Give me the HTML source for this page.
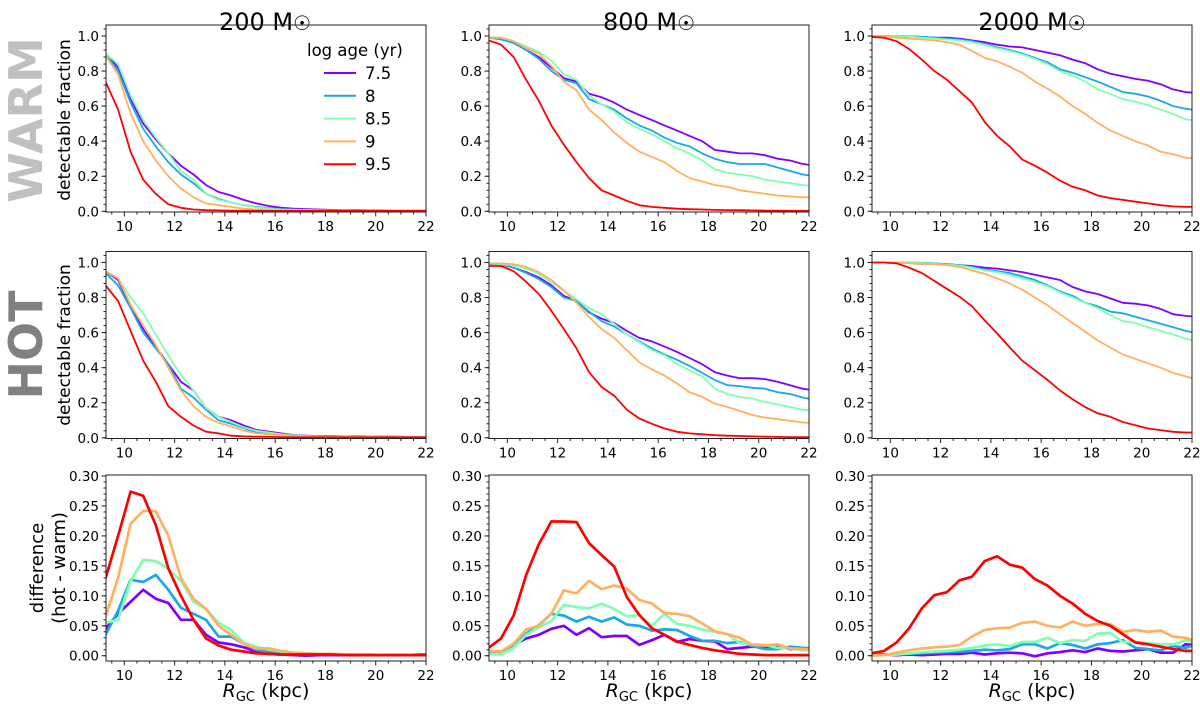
<!DOCTYPE html>
<html><head><meta charset="utf-8">
<style>
html,body{margin:0;padding:0;background:#fff;}
svg{display:block;font-family:"DejaVu Sans","Liberation Sans",sans-serif;}
</style></head>
<body>
<svg id="fig" width="1200" height="707" viewBox="0 0 1200 707" xmlns="http://www.w3.org/2000/svg">
<text x="265" y="30" font-size="24" text-anchor="middle">200 M<tspan font-size="20">☉</tspan></text>
<text x="649" y="30" font-size="24" text-anchor="middle">800 M<tspan font-size="20">☉</tspan></text>
<text x="1032" y="30" font-size="24" text-anchor="middle">2000 M<tspan font-size="20">☉</tspan></text>
<text transform="translate(42,120) rotate(-90)" font-size="46" font-weight="bold" fill="#c0c0c0" text-anchor="middle">WARM</text>
<text transform="translate(42,345) rotate(-90)" font-size="46" font-weight="bold" fill="#808080" text-anchor="middle">HOT</text>
<text transform="translate(70,120) rotate(-90)" font-size="17" text-anchor="middle">detectable fraction</text>
<text transform="translate(70,345) rotate(-90)" font-size="17" text-anchor="middle">detectable fraction</text>
<text transform="translate(43,568) rotate(-90)" font-size="18" text-anchor="middle">difference</text>
<text transform="translate(65,568) rotate(-90)" font-size="18" text-anchor="middle">(hot - warm)</text>
<g id="plots"></g>
</svg>
<script>
const xs = [9.25,9.75,10.25,10.75,11.25,11.75,12.25,12.75,13.25,13.75,14.25,14.75,15.25,15.75,16.25,16.75,17.25,17.75,18.25,18.75,19.25,19.75,20.25,20.75,21.25,21.75,22.25];
const ages = ["7.5","8","8.5","9","9.5"];
const xTicks = [10,12,14,16,18,20,22];
const fracTicks = [0.0,0.2,0.4,0.6,0.8,1.0];
const diffTicks = [0.00,0.05,0.10,0.15,0.20,0.25,0.30];

const warm200_75 = [.90,.82,.64,.50,.41,.33,.26,.21,.15,.11,.09,.065,.045,.03,.02,.015,.012,.01,.008,.007,.006,.005,.005,.004,.004,.004,.004];
const warm200_8 = [.90,.80,.62,.47,.37,.28,.21,.16,.10,.07,.05,.035,.025,.018,.012,.01,.008,.006,.005,.004,.004,.003,.003,.003,.003,.003,.003];
const warm200_85 = [.90,.84,.66,.52,.42,.33,.23,.18,.10,.065,.05,.035,.022,.015,.01,.008,.006,.005,.004,.004,.003,.003,.003,.003,.003,.003,.003];
const warm200_9 = [.89,.78,.56,.40,.29,.20,.13,.08,.045,.035,.025,.015,.01,.008,.006,.005,.004,.003,.003,.003,.002,.002,.002,.002,.002,.002,.002];
const warm200_95 = [.74,.58,.34,.18,.10,.04,.02,.01,.006,.005,.004,.003,.003,.002,.002,.002,.002,.002,.002,.002,.002,.002,.002,.002,.002,.002,.002];

const hot200_75 = [.95,.90,.75,.62,.52,.42,.32,.27,.17,.12,.10,.07,.045,.035,.025,.015,.012,.01,.01,.008,.008,.007,.006,.006,.005,.005,.005];
const hot200_8 = [.94,.87,.74,.60,.51,.42,.28,.23,.16,.10,.08,.055,.03,.025,.02,.015,.01,.008,.007,.006,.005,.005,.004,.004,.004,.004,.004];
const hot200_85 = [.95,.91,.80,.71,.59,.47,.36,.27,.17,.12,.09,.06,.04,.03,.02,.012,.01,.008,.007,.006,.005,.005,.004,.004,.004,.004,.004];
const hot200_9 = [.95,.91,.76,.64,.53,.40,.27,.18,.12,.085,.065,.04,.025,.02,.015,.012,.008,.007,.006,.005,.005,.004,.004,.004,.004,.004,.004];
const hot200_95 = [.87,.78,.61,.44,.32,.18,.12,.07,.035,.025,.012,.008,.006,.005,.004,.003,.003,.003,.003,.003,.003,.003,.003,.003,.003,.003,.003];

const diff200_75 = [.045,.07,.09,.11,.095,.088,.06,.06,.035,.022,.019,.014,.007,.003,.002,.001,.0,.001,.001,.001,.001,.001,.001,.001,.001,.002,.002];
const diff200_8 = [.035,.075,.127,.123,.135,.11,.08,.07,.06,.032,.032,.02,.01,.006,.005,.004,.003,.002,.002,.002,.001,.001,.001,.001,.001,.001,.001];
const diff200_85 = [.055,.06,.125,.16,.158,.145,.125,.09,.078,.055,.043,.022,.015,.01,.007,.005,.004,.003,.003,.002,.002,.002,.001,.001,.001,.001,.001];
const diff200_9 = [.065,.13,.22,.242,.241,.20,.13,.095,.078,.05,.035,.02,.012,.012,.008,.005,.004,.003,.003,.002,.002,.002,.001,.001,.001,.001,.001];
const diff200_95 = [.129,.20,.274,.267,.218,.146,.10,.06,.029,.017,.01,.007,.004,.003,.002,.002,.002,.002,.002,.001,.001,.001,.001,.001,.001,.001,.001];

const warm800_75 = [.99,.99,.96,.92,.88,.82,.76,.74,.67,.65,.62,.58,.55,.52,.49,.46,.43,.40,.35,.34,.33,.33,.32,.30,.29,.27,.26];
const warm800_8 = [.99,.98,.96,.92,.87,.80,.75,.73,.64,.61,.58,.53,.49,.46,.42,.39,.37,.33,.30,.28,.27,.27,.27,.25,.23,.21,.20];
const warm800_85 = [.99,.99,.97,.94,.91,.86,.78,.75,.66,.61,.57,.51,.47,.44,.40,.36,.33,.29,.24,.22,.21,.20,.18,.17,.16,.15,.14];
const warm800_9 = [.99,.99,.97,.93,.90,.83,.74,.69,.58,.52,.45,.39,.34,.31,.28,.23,.19,.17,.15,.14,.12,.11,.10,.09,.085,.08,.08];
const warm800_95 = [.975,.95,.88,.75,.63,.49,.38,.28,.19,.12,.09,.06,.035,.025,.02,.015,.012,.01,.008,.007,.006,.005,.004,.004,.003,.003,.003];

const hot800_75 = [.995,.99,.97,.945,.915,.87,.81,.78,.715,.68,.655,.61,.57,.55,.52,.49,.455,.42,.375,.355,.34,.34,.335,.32,.30,.28,.27];
const hot800_8 = [.99,.99,.97,.94,.905,.86,.80,.78,.72,.665,.635,.59,.55,.51,.475,.445,.41,.37,.33,.30,.295,.285,.28,.26,.25,.23,.215];
const hot800_85 = [.995,.99,.985,.965,.935,.885,.84,.79,.74,.705,.65,.59,.545,.50,.47,.42,.385,.35,.28,.25,.233,.223,.205,.19,.176,.16,.155];
const hot800_9 = [.995,.995,.99,.975,.945,.90,.84,.77,.69,.62,.57,.50,.43,.39,.355,.31,.26,.233,.195,.176,.153,.13,.115,.106,.097,.087,.085];
const hot800_95 = [.98,.98,.95,.89,.82,.725,.62,.51,.375,.29,.24,.16,.11,.08,.053,.034,.025,.02,.015,.012,.01,.008,.006,.005,.004,.004,.004];

const diff800_75 = [.004,.007,.018,.029,.035,.045,.05,.035,.046,.031,.033,.033,.018,.026,.035,.023,.028,.025,.024,.011,.013,.015,.014,.015,.011,.012,.012];
const diff800_8 = [.005,.006,.018,.037,.051,.07,.067,.057,.065,.057,.064,.052,.05,.042,.044,.043,.033,.025,.025,.021,.023,.016,.011,.011,.015,.013,.012];
const diff800_85 = [.003,.002,.013,.035,.047,.058,.085,.081,.079,.087,.078,.066,.068,.05,.07,.053,.05,.044,.04,.036,.021,.019,.018,.013,.012,.009,.009];
const diff800_9 = [.008,.007,.02,.044,.05,.07,.109,.104,.125,.111,.117,.112,.093,.087,.071,.07,.066,.054,.041,.036,.03,.018,.017,.019,.012,.011,.01];
const diff800_95 = [.013,.029,.067,.135,.186,.224,.224,.223,.188,.168,.149,.098,.068,.046,.035,.024,.018,.013,.009,.006,.003,.002,.001,.001,.001,.001,.001];

const warm2000_75 = [1,1,1,.998,.995,.99,.99,.985,.975,.965,.95,.94,.935,.92,.905,.89,.865,.845,.81,.785,.77,.755,.745,.725,.695,.68,.675];
const warm2000_8 = [1,1,1,.997,.995,.99,.985,.98,.97,.955,.935,.92,.90,.875,.85,.81,.79,.765,.74,.71,.68,.67,.655,.63,.60,.585,.575];
const warm2000_85 = [1,1,1,.997,.99,.985,.98,.975,.965,.95,.93,.915,.895,.87,.84,.80,.775,.74,.695,.67,.64,.625,.605,.58,.555,.525,.515];
const warm2000_9 = [1,.998,.99,.985,.98,.975,.965,.95,.915,.875,.855,.825,.79,.74,.70,.655,.60,.555,.505,.46,.43,.40,.375,.34,.325,.305,.30];
const warm2000_95 = [.995,.99,.97,.925,.865,.80,.75,.685,.62,.51,.43,.37,.295,.26,.22,.175,.14,.12,.09,.075,.065,.055,.045,.035,.028,.025,.025];

const hot2000_75 = [1,1,1,1,.998,.995,.99,.985,.98,.97,.965,.955,.945,.93,.915,.90,.86,.835,.82,.795,.77,.765,.755,.735,.705,.695,.69];
const hot2000_8 = [1,1,1,1,.997,.995,.99,.985,.975,.96,.95,.94,.92,.90,.87,.835,.81,.77,.75,.72,.71,.69,.67,.65,.63,.61,.595];
const hot2000_85 = [1,1,1,1,.997,.993,.988,.982,.97,.955,.945,.93,.91,.89,.865,.83,.80,.77,.74,.70,.665,.655,.63,.61,.59,.565,.545];
const hot2000_9 = [1,1,.998,.995,.99,.99,.985,.975,.955,.935,.91,.88,.845,.80,.755,.705,.655,.605,.555,.515,.475,.45,.425,.40,.37,.35,.33];
const hot2000_95 = [1,1,.995,.97,.94,.895,.85,.805,.75,.67,.595,.515,.44,.385,.33,.27,.22,.175,.14,.12,.09,.072,.053,.044,.034,.03,.03];

const diff2000_75 = [.003,.002,.001,.002,.001,.002,.003,.003,.005,.002,.004,.005,.004,-.001,.004,.006,.009,.006,.012,.008,.007,.009,.011,.005,.005,.019,.017];
const diff2000_8 = [.001,.002,.002,.003,.004,.005,.006,.007,.008,.01,.009,.011,.019,.019,.012,.021,.018,.012,.019,.021,.026,.013,.011,.009,.016,.013,.02];
const diff2000_85 = [.001,.001,.002,.004,.006,.007,.008,.01,.013,.017,.019,.016,.023,.023,.03,.021,.026,.025,.037,.038,.023,.023,.021,.019,.019,.026,.02];
const diff2000_9 = [.0,.001,.005,.009,.012,.014,.015,.018,.032,.043,.046,.047,.055,.057,.05,.047,.057,.05,.053,.053,.04,.043,.04,.042,.032,.03,.023];
const diff2000_95 = [.004,.008,.022,.046,.079,.101,.106,.126,.132,.158,.166,.152,.147,.128,.117,.10,.087,.07,.058,.05,.036,.022,.019,.015,.011,.008,.008];

const colors = ["#8000ff","#1aa8e6","#80ffb0","#ffb060","#ff0000"];
const NS = "http://www.w3.org/2000/svg";
const root = document.getElementById("plots");
function mk(tag, attrs, parent){ const e=document.createElementNS(NS,tag); for(const k in attrs) e.setAttribute(k,attrs[k]); (parent||root).appendChild(e); return e; }

const colX = [106, 489, 872], W = 320;
const rowY = [25, 251.5, 475], rowH = [187, 187, 186];
const xlim = [9.27, 22];
const ylims = [[-0.004,1.0626],[-0.004,1.0626],[-0.0088,0.3017]];
const panels = [
  [[warm200_75,warm200_8,warm200_85,warm200_9,warm200_95],[warm800_75,warm800_8,warm800_85,warm800_9,warm800_95],[warm2000_75,warm2000_8,warm2000_85,warm2000_9,warm2000_95]],
  [[hot200_75,hot200_8,hot200_85,hot200_9,hot200_95],[hot800_75,hot800_8,hot800_85,hot800_9,hot800_95],[hot2000_75,hot2000_8,hot2000_85,hot2000_9,hot2000_95]],
  [[diff200_75,diff200_8,diff200_85,diff200_9,diff200_95],[diff800_75,diff800_8,diff800_85,diff800_9,diff800_95],[diff2000_75,diff2000_8,diff2000_85,diff2000_9,diff2000_95]]
];
const rowNames = ["warm","hot","diff"], colNames = ["200","800","2000"];

for(let r=0;r<3;r++){
  for(let c=0;c<3;c++){
    const x0=colX[c], y0=rowY[r], h=rowH[r], yl=ylims[r];
    const sx = v => x0 + (v-xlim[0])/(xlim[1]-xlim[0])*W;
    const sy = v => y0 + h - (v-yl[0])/(yl[1]-yl[0])*h;
    const g = mk("g",{});
    
    
    const cid = "clip"+r+c;
    const cp = mk("clipPath",{id:cid},g);
    mk("rect",{x:x0,y:y0,width:W,height:h},cp);
    const lg = mk("g",{"clip-path":"url(#"+cid+")"},g);
    panels[r][c].forEach((vals,i)=>{
      const d = vals.map((v,k)=>(k?"L":"M")+sx(xs[k]).toFixed(1)+","+sy(v).toFixed(1)).join("");
      const p = mk("path",{d:d,fill:"none",stroke:colors[i],"stroke-width":r==2?2.7:1.8,"stroke-linejoin":"round"},lg);
      
      
    });
    const fr = mk("rect",{x:x0,y:y0,width:W,height:h,fill:"none",stroke:"#222","stroke-width":1},g);
    
    
    for(let v=9.5; v<=22.01; v+=0.5){
      const X=sx(v);
      const major = Math.abs(v - Math.round(v/2)*2) < 1e-6;
      mk("line",{x1:X,x2:X,y1:y0+h,y2:y0+h+(major?4.5:2.5),stroke:"#222","stroke-width":1},g);
    }
    xTicks.forEach(v=>{
      const t = mk("text",{x:sx(v),y:y0+h+19,"font-size":13.5,"text-anchor":"middle"},g);
      t.textContent = v;
      
      
    });
    const ticks = r==2 ? diffTicks : fracTicks;
    const minorStep = r==2 ? 0.01 : 0.04;
    for(let v=0; v<=yl[1]+1e-9; v+=minorStep){
      mk("line",{x1:x0,x2:x0-2.5,y1:sy(v),y2:sy(v),stroke:"#222","stroke-width":1},g);
    }
    ticks.forEach(v=>{
      const Y=sy(v);
      mk("line",{x1:x0,x2:x0-4.5,y1:Y,y2:Y,stroke:"#222","stroke-width":1},g);
      const t = mk("text",{x:x0-7,y:Y+5,"font-size":13.5,"text-anchor":"end"},g);
      t.textContent = r==2 ? v.toFixed(2) : v.toFixed(1);
      
      
    });
    if(r==2){
      const t = mk("text",{x:x0+W/2,y:697,"font-size":19,"text-anchor":"middle"},g);
      t.innerHTML = '<tspan font-style="italic">R</tspan><tspan font-size="13" dy="4">GC</tspan><tspan dy="-4"> (kpc)</tspan>';
      
      
    }
  }
}
const lgd = mk("g",{});


const lt = mk("text",{x:307,y:56,"font-size":16.5},lgd);
lt.textContent = "log age (yr)";


ages.forEach((a,i)=>{
  const Y = 73 + i*22.8;
  const ln = mk("line",{x1:324,x2:356,y1:Y,y2:Y,stroke:colors[i],"stroke-width":2},lgd);
  
  
  const t = mk("text",{x:365,y:Y+6,"font-size":16.5},lgd);
  t.textContent = a;
  
  
});
</script>
</body></html>
